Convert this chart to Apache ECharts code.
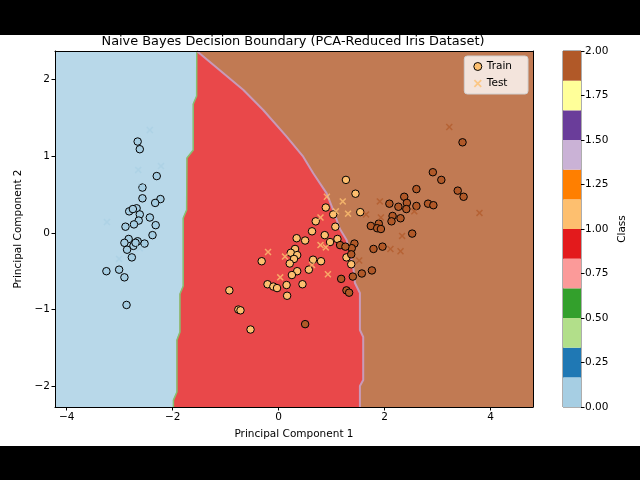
<!DOCTYPE html>
<html><head><meta charset="utf-8">
<script src="https://cdn.jsdelivr.net/npm/echarts@6/dist/echarts.min.js"></script>
<style>
html,body{margin:0;padding:0;background:#000;width:640px;height:480px;overflow:hidden}
#c{position:absolute;left:0;top:35px;width:640px;height:411px;background:#fff}
</style></head><body><div id="c"></div>
<script>
// ---- data ----
const xRange = [-4.22, 4.80];
const yRange = [-2.27, 2.37];
const xTicks = [-4, -2, 0, 2, 4];
const yTicks = [-2, -1, 0, 1, 2];
const cbTicks = [0, 0.25, 0.5, 0.75, 1, 1.25, 1.5, 1.75, 2];
const classNames = ['setosa', 'versicolor', 'virginica'];

// decision boundaries (top -> bottom)
const boundary01 = [[-1.545,2.37],[-1.547,1.783],[-1.611,1.679],[-1.611,1.079],[-1.730,0.975],[-1.736,0.297],[-1.800,0.193],[-1.800,-0.693],[-1.862,-0.797],[-1.862,-1.292],[-1.919,-1.397],[-1.919,-2.075],[-1.985,-2.180],[-1.985,-2.27]];
const boundary12 = [[-1.545,2.37],[-0.664,1.861],[-0.291,1.601],[0.151,1.253],[0.464,0.992],[0.653,0.776],[0.906,0.515],[1.030,0.297],[1.157,0.050],[1.283,-0.094],[1.408,-0.442],[1.440,-0.654],[1.534,-0.785],[1.534,-1.267],[1.596,-1.358],[1.596,-1.919],[1.534,-1.997],[1.534,-2.27]];

const trainSetosa = [[-2.66,1.19],[-2.62,1.09],[-2.30,0.74],[-2.57,0.59],[-2.57,0.45],[-2.23,0.44],[-2.33,0.39],[-2.68,0.32],[-2.82,0.28],[-2.62,0.24],[-2.43,0.20],[-2.64,0.16],[-2.73,0.11],[-2.32,0.10],[-2.89,0.08],[-2.38,-0.03],[-2.83,-0.08],[-2.66,-0.11],[-2.53,-0.14],[-2.91,-0.13],[-2.74,-0.17],[-2.86,-0.22],[-2.77,-0.32],[-3.25,-0.50],[-3.01,-0.48],[-2.91,-0.58],[-2.87,-0.94],[-2.75,0.31],[-2.70,-0.13]];
const testSetosa = [[-2.43,1.34],[-2.65,0.82],[-2.22,0.87],[-3.24,0.14],[-3.01,-0.34],[-2.62,-0.20],[-2.59,0.60]];

const trainVersicolor = [[1.27,0.69],[1.45,0.51],[1.54,0.27],[0.89,0.33],[1.03,0.24],[0.70,0.15],[1.07,0.08],[0.63,0.02],[0.87,-0.03],[1.11,-0.08],[0.34,-0.07],[0.50,-0.10],[0.97,-0.12],[0.31,-0.21],[0.23,-0.26],[0.35,-0.29],[0.29,-0.34],[0.21,-0.40],[0.65,-0.35],[0.80,-0.37],[-0.32,-0.37],[1.28,-0.32],[1.37,-0.41],[0.57,-0.48],[0.35,-0.50],[0.25,-0.55],[0.45,-0.67],[0.15,-0.68],[-0.21,-0.67],[-0.10,-0.70],[-0.03,-0.72],[0.16,-0.82],[-0.93,-0.75],[-0.76,-1.00],[-0.72,-1.01],[-0.53,-1.26]];
const testVersicolor = [[0.91,0.47],[1.21,0.41],[1.31,0.25],[1.08,0.28],[0.79,0.20],[-0.20,-0.25],[0.12,-0.31],[0.79,-0.16],[0.89,-0.19],[0.03,-0.58],[0.93,-0.54],[0.63,-0.42]];

const trainVirginica = [[3.47,1.18],[2.91,0.79],[3.07,0.69],[2.60,0.57],[3.38,0.55],[3.49,0.47],[2.37,0.47],[2.42,0.39],[2.09,0.38],[2.26,0.34],[2.60,0.35],[2.41,0.31],[2.82,0.38],[2.92,0.36],[2.15,0.22],[2.30,0.19],[2.13,0.15],[1.89,0.12],[1.74,0.09],[1.86,0.06],[1.93,0.05],[2.52,-0.01],[1.43,-0.14],[1.38,-0.20],[1.16,-0.16],[1.26,-0.18],[1.79,-0.21],[1.96,-0.18],[1.37,-0.28],[1.57,-0.53],[1.76,-0.49],[1.40,-0.57],[1.18,-0.60],[1.28,-0.75],[1.33,-0.78],[0.50,-1.19]];
const testVirginica = [[3.22,1.38],[1.91,0.41],[1.65,0.24],[1.93,0.20],[2.56,0.28],[3.79,0.26],[2.33,-0.04],[2.11,-0.21],[2.30,-0.24],[1.52,-0.36]];

// ---- styling ----
const paired = ['#a6cee3','#1f78b4','#b2df8a','#33a02c','#fb9a99','#e31a1c','#fdbf6f','#ff7f00','#cab2d6','#6a3d9a','#ffff99','#b15928'];
const pointColors = ['#a6cee3', '#fdbf6f', '#b15928'];
const regionColors = ['#b8d8e9', '#e9484a', '#c17a53'];
const FONT = 'DejaVu Sans';
const xPath = 'path://M1.5,0L5,3.5L8.5,0L10,1.5L6.5,5L10,8.5L8.5,10L5,6.5L1.5,10L0,8.5L3.5,5L0,1.5Z';
const minus = v => String(v).replace('-', '\u2212');

const polyBlue = [[xRange[0], yRange[1]]].concat(boundary01, [[xRange[0], yRange[0]]]);
const polyRed = boundary01.concat(boundary12.slice().reverse());
const polyBrown = boundary12.concat([[xRange[1], yRange[0]], [xRange[1], yRange[1]]]);

function region(poly, color) {
  return {
    type: 'custom', xAxisIndex: 0, yAxisIndex: 0, silent: true, z: 1, clip: true,
    data: [0],
    renderItem: (params, api) => ({
      type: 'polygon',
      shape: { points: poly.map(p => api.coord(p)) },
      style: { fill: color, stroke: color, lineWidth: 0.5 }
    })
  };
}
function bline(pts, color, w) {
  return { type: 'line', xAxisIndex: 0, yAxisIndex: 0, data: pts, symbol: 'none', silent: true, z: 2,
    lineStyle: { color: color, width: w }, clip: true };
}
function train(pts, c) {
  return { name: 'Train', type: 'scatter', xAxisIndex: 0, yAxisIndex: 0, data: pts, symbol: 'circle', symbolSize: 7.5, z: 4,
    itemStyle: { color: pointColors[c], borderColor: '#000', borderWidth: 1, opacity: 1 } };
}
function test(pts, c, op) {
  return { name: 'Test', type: 'scatter', xAxisIndex: 0, yAxisIndex: 0, data: pts, symbol: xPath, symbolSize: 7, z: 5,
    itemStyle: { color: pointColors[c], opacity: op } };
}

const series = [
  region(polyBlue, regionColors[0]),
  region(polyRed, regionColors[1]),
  region(polyBrown, regionColors[2]),
  bline(boundary01, '#86c070', 1.5),
  bline(boundary12, '#c99ab8', 2),
  train(trainSetosa, 0), train(trainVersicolor, 1), train(trainVirginica, 2),
  test(testSetosa, 0, 0.6), test(testVersicolor, 1, 0.8), test(testVirginica, 2, 0.7)
];
// colorbar: 12 stacked bands of 2/12 each
paired.forEach((col, i) => {
  series.push({ type: 'bar', xAxisIndex: 2, yAxisIndex: 2, stack: 'cb', data: [2 / 12], barWidth: '100%', silent: true,
    itemStyle: { color: col } });
});

const axisText = { color: '#000', fontFamily: FONT, fontSize: 10.5 };
const chart = echarts.init(document.getElementById('c'), null, { renderer: 'canvas' });
chart.setOption({
  animation: false,
  backgroundColor: '#fff',
  textStyle: { fontFamily: FONT },
  title: { text: 'Naive Bayes Decision Boundary (PCA-Reduced Iris Dataset)', left: 293, textAlign: 'center', top: 0, padding: 0,
    textStyle: { fontFamily: FONT, fontSize: 12.9, fontWeight: 'normal', color: '#000' } },
  legend: {
    right: 112, top: 21, orient: 'vertical', backgroundColor: 'rgba(255,255,255,0.8)', borderColor: '#d0d0d0', borderWidth: 1,
    borderRadius: 3, padding: [5, 16, 5, 9], itemWidth: 8, itemHeight: 8, itemGap: 6,
    textStyle: { fontFamily: FONT, fontSize: 10.5, color: '#000' },
    data: [
      { name: 'Train', icon: 'circle', itemStyle: { color: '#fdbf6f', borderColor: '#000', borderWidth: 1 } },
      { name: 'Test', icon: xPath, itemStyle: { color: '#fdbf6f', opacity: 0.8 } }
    ]
  },
  grid: [
    { left: 55, top: 16, width: 478, height: 356 },
    { left: 563, top: 16, width: 18, height: 356, show: true, borderColor: '#333', borderWidth: 0.8 }
  ],
  xAxis: [
    { type: 'value', gridIndex: 0, min: xRange[0], max: xRange[1], position: 'bottom', z: 10,
      name: 'Principal Component 1', nameLocation: 'middle', nameGap: 22, nameTextStyle: axisText,
      axisLine: { show: true, onZero: false, lineStyle: { color: '#000', width: 1 } },
      axisTick: { show: true, length: 3.5, lineStyle: { color: '#000' }, customValues: xTicks },
      axisLabel: Object.assign({ margin: 5, customValues: xTicks, formatter: minus }, axisText),
      splitLine: { show: false } },
    { type: 'value', gridIndex: 0, min: xRange[0], max: xRange[1], position: 'top', z: 10,
      axisLine: { show: true, onZero: false, lineStyle: { color: '#000', width: 1 } },
      axisTick: { show: false }, axisLabel: { show: false }, splitLine: { show: false } },
    { type: 'category', gridIndex: 1, data: ['c'], show: false }
  ],
  yAxis: [
    { type: 'value', gridIndex: 0, min: yRange[0], max: yRange[1], position: 'left', z: 10,
      name: 'Principal Component 2', nameLocation: 'middle', nameGap: 30, nameTextStyle: axisText,
      axisLine: { show: true, onZero: false, lineStyle: { color: '#000', width: 1 } },
      axisTick: { show: true, length: 3.5, lineStyle: { color: '#000' }, customValues: yTicks },
      axisLabel: Object.assign({ margin: 5, customValues: yTicks, formatter: minus }, axisText),
      splitLine: { show: false } },
    { type: 'value', gridIndex: 0, min: yRange[0], max: yRange[1], position: 'right', z: 10,
      axisLine: { show: true, onZero: false, lineStyle: { color: '#000', width: 1 } },
      axisTick: { show: false }, axisLabel: { show: false }, splitLine: { show: false } },
    { type: 'value', gridIndex: 1, min: 0, max: 2, interval: 0.25, position: 'right',
      name: 'Class', nameLocation: 'middle', nameGap: 36, nameRotate: 90, nameTextStyle: axisText,
      axisLine: { show: false },
      axisTick: { show: true, length: 3.5, lineStyle: { color: '#000' } },
      axisLabel: Object.assign({ margin: 4, formatter: v => v.toFixed(2) }, axisText),
      splitLine: { show: false } }
  ],
  series: series
});
</script></body></html>
